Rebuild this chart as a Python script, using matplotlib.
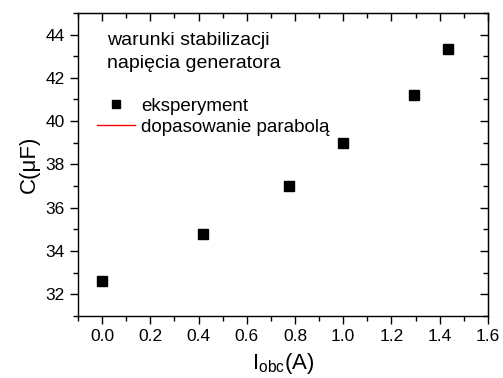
import matplotlib
matplotlib.use("Agg")
import matplotlib.pyplot as plt
from matplotlib.lines import Line2D
from matplotlib.ticker import MultipleLocator

plt.rcParams['font.family'] = ['Liberation Sans', 'DejaVu Sans']
plt.rcParams['mathtext.fontset'] = 'custom'
plt.rcParams['mathtext.rm'] = 'Liberation Sans'
plt.rcParams['mathtext.it'] = 'Liberation Sans:italic'

current = [0.0, 0.42, 0.775, 1.0, 1.295, 1.435]
capacity = [32.6, 34.8, 37.0, 39.0, 41.2, 43.35]
legend_labels = ["eksperyment", "dopasowanie parabolą"]
note_lines = ["warunki stabilizacji", "napięcia generatora"]

fig = plt.figure(figsize=(5.03, 3.78), dpi=100)
ax = fig.add_axes([0.155, 0.164, 0.815, 0.802])

ax.plot(current, capacity, linestyle='none', marker='s', color='black', markersize=7)

ax.set_xlim(-0.1, 1.6)
ax.set_ylim(31, 45)
ax.xaxis.set_major_locator(MultipleLocator(0.2))
ax.xaxis.set_minor_locator(MultipleLocator(0.1))
ax.yaxis.set_major_locator(MultipleLocator(2))
ax.yaxis.set_minor_locator(MultipleLocator(1))
ax.set_xticks([0.0, 0.2, 0.4, 0.6, 0.8, 1.0, 1.2, 1.4, 1.6])
ax.set_xticklabels(["0.0", "0.2", "0.4", "0.6", "0.8", "1.0", "1.2", "1.4", "1.6"])

ax.tick_params(which='both', top=False, right=False, direction='out', labelsize=12.5, width=1)
ax.tick_params(which='major', length=6)
ax.tick_params(which='minor', length=3.5)

sec_x = ax.secondary_xaxis('top')
sec_x.xaxis.set_major_locator(MultipleLocator(0.2))
sec_x.xaxis.set_minor_locator(MultipleLocator(0.1))
sec_x.tick_params(which='both', direction='in', labeltop=False, width=1)
sec_x.tick_params(which='major', length=6)
sec_x.tick_params(which='minor', length=3.5)
sec_y = ax.secondary_yaxis('right')
sec_y.yaxis.set_major_locator(MultipleLocator(2))
sec_y.yaxis.set_minor_locator(MultipleLocator(1))
sec_y.tick_params(which='both', direction='in', labelright=False, width=1)
sec_y.tick_params(which='major', length=6)
sec_y.tick_params(which='minor', length=3.5)

for s in ax.spines.values():
    s.set_linewidth(1)

ax.set_xlabel(r"I$_{\mathrm{obc}}$(A)", fontsize=16, labelpad=5)
ax.set_ylabel("C(μF)", fontsize=16, labelpad=4)

ax.text(0.0707, 0.894, note_lines[0], transform=ax.transAxes, fontsize=14, va='baseline', ha='left')
ax.text(0.0707, 0.818, note_lines[1], transform=ax.transAxes, fontsize=14, va='baseline', ha='left')

handles = [Line2D([], [], linestyle='none', marker='s', color='black', markersize=5.5),
           Line2D([], [], color='red', linewidth=1)]
ax.legend(handles, legend_labels, loc='upper left', bbox_to_anchor=(0.046, 0.721), frameon=False,
          fontsize=13.5, handlelength=2.05, handletextpad=0.3, labelspacing=0.21, borderpad=0,
          borderaxespad=0)

fig.savefig("out.png", dpi=100)
